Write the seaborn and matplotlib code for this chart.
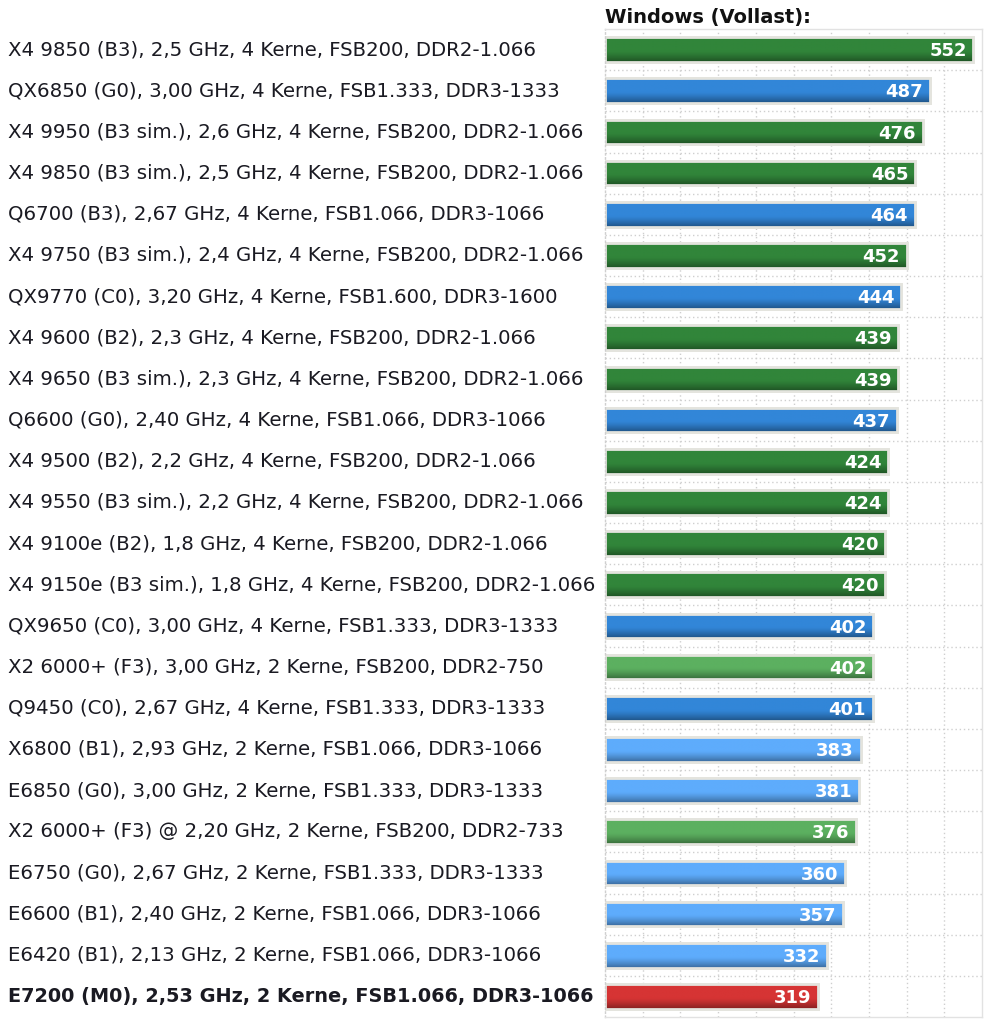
import matplotlib
matplotlib.use("Agg")
import matplotlib.pyplot as plt
import matplotlib.transforms as mtransforms
import matplotlib.colors as mcolors
import seaborn as sns
import pandas as pd
import numpy as np

labels = [
    "X4 9850 (B3), 2,5 GHz, 4 Kerne, FSB200, DDR2-1.066",
    "QX6850 (G0), 3,00 GHz, 4 Kerne, FSB1.333, DDR3-1333",
    "X4 9950 (B3 sim.), 2,6 GHz, 4 Kerne, FSB200, DDR2-1.066",
    "X4 9850 (B3 sim.), 2,5 GHz, 4 Kerne, FSB200, DDR2-1.066",
    "Q6700 (B3), 2,67 GHz, 4 Kerne, FSB1.066, DDR3-1066",
    "X4 9750 (B3 sim.), 2,4 GHz, 4 Kerne, FSB200, DDR2-1.066",
    "QX9770 (C0), 3,20 GHz, 4 Kerne, FSB1.600, DDR3-1600",
    "X4 9600 (B2), 2,3 GHz, 4 Kerne, FSB200, DDR2-1.066",
    "X4 9650 (B3 sim.), 2,3 GHz, 4 Kerne, FSB200, DDR2-1.066",
    "Q6600 (G0), 2,40 GHz, 4 Kerne, FSB1.066, DDR3-1066",
    "X4 9500 (B2), 2,2 GHz, 4 Kerne, FSB200, DDR2-1.066",
    "X4 9550 (B3 sim.), 2,2 GHz, 4 Kerne, FSB200, DDR2-1.066",
    "X4 9100e (B2), 1,8 GHz, 4 Kerne, FSB200, DDR2-1.066",
    "X4 9150e (B3 sim.), 1,8 GHz, 4 Kerne, FSB200, DDR2-1.066",
    "QX9650 (C0), 3,00 GHz, 4 Kerne, FSB1.333, DDR3-1333",
    "X2 6000+ (F3), 3,00 GHz, 2 Kerne, FSB200, DDR2-750",
    "Q9450 (C0), 2,67 GHz, 4 Kerne, FSB1.333, DDR3-1333",
    "X6800 (B1), 2,93 GHz, 2 Kerne, FSB1.066, DDR3-1066",
    "E6850 (G0), 3,00 GHz, 2 Kerne, FSB1.333, DDR3-1333",
    "X2 6000+ (F3) @ 2,20 GHz, 2 Kerne, FSB200, DDR2-733",
    "E6750 (G0), 2,67 GHz, 2 Kerne, FSB1.333, DDR3-1333",
    "E6600 (B1), 2,40 GHz, 2 Kerne, FSB1.066, DDR3-1066",
    "E6420 (B1), 2,13 GHz, 2 Kerne, FSB1.066, DDR3-1066",
    "E7200 (M0), 2,53 GHz, 2 Kerne, FSB1.066, DDR3-1066",
]
values = [552, 487, 476, 465, 464, 452, 444, 439, 439, 437, 424, 424, 420, 420,
          402, 402, 401, 383, 381, 376, 360, 357, 332, 319]
groups = ["amd4", "intel4", "amd4", "amd4", "intel4", "amd4", "intel4", "amd4", "amd4",
          "intel4", "amd4", "amd4", "amd4", "amd4", "intel4", "amd2", "intel4", "intel2",
          "intel2", "amd2", "intel2", "intel2", "intel2", "test"]
title = "Windows (Vollast):"

palette = {"amd4": "#31853a", "intel4": "#3286d8", "amd2": "#5cb060",
           "intel2": "#5eacfc", "test": "#d63434"}

df = pd.DataFrame({"label": labels, "value": values, "group": groups})

sns.set_theme(style="white")
plt.rcParams['font.family'] = ['DejaVu Sans']

fig = plt.figure(figsize=(9.94, 10.24), dpi=100)
ax = fig.add_axes([605/994, 1 - 1017/1024, (982 - 605)/994, (1017 - 29)/1024])

edge = "#e4e4de"
sns.barplot(data=df, x="value", y="label", hue="group", palette=palette,
            dodge=False, legend=False, width=0.6, ax=ax,
            edgecolor=edge, linewidth=2, saturation=1)

xlim = (0, 565)
ylim = (len(labels) - 0.5, -0.5)

# vertical gradient inside each bar (lighter top, darker bottom)
for p in list(ax.patches):
    fc = np.array(mcolors.to_rgb(p.get_facecolor()))
    n = 40
    t = np.linspace(0, 1, n)
    fac = np.where(t < 0.55, 1.0, 1.0 - 0.38 * ((t - 0.55) / 0.45) ** 1.3)
    rows = np.clip(fc[None, :] * fac[:, None], 0, 1)
    rows[:3] = np.clip(fc + (1 - fc) * 0.12, 0, 1)
    img = rows[:, None, :]
    x0, y0 = p.get_x(), p.get_y()
    w, h = p.get_width(), p.get_height()
    im = ax.imshow(img, extent=(x0, x0 + w, y0 + h, y0), aspect="auto",
                   interpolation="bilinear", zorder=p.get_zorder() + 0.1, origin="upper")
    im.set_clip_path(p)
    ax.add_patch(plt.Rectangle((x0, y0), w, h, fill=False, edgecolor=edge,
                               linewidth=2, zorder=p.get_zorder() + 0.2))

ax.set_xlim(*xlim)
ax.set_ylim(*ylim)
ax.set_aspect("auto")
ax.set_xlabel("")
ax.set_ylabel("")
ax.set_xticks(np.linspace(0, 565, 11)[1:-1])
ax.set_yticks(np.arange(len(labels) - 1) + 0.5)
ax.set_xticklabels([])
ax.set_yticklabels([])
ax.tick_params(length=0)
ax.grid(True, color="#cfcfcf", linestyle=(0, (1, 2)), linewidth=1)
ax.set_axisbelow(True)
for side, sp in ax.spines.items():
    sp.set_visible(True)
    sp.set_color("#e2e2e2")
    sp.set_linewidth(1)
ax.spines["left"].set_linestyle((0, (1, 2)))
ax.spines["left"].set_color("#cfcfcf")

# value labels
for i, v in enumerate(values):
    ax.text(v - 10, i + 0.04, str(v), ha="right", va="center", color="white",
            fontsize=13, fontweight="bold", zorder=10)

# category labels
trans = mtransforms.blended_transform_factory(fig.transFigure, ax.transData)
for i, lab in enumerate(labels):
    bold = groups[i] == "test"
    ax.text(8/994, i, lab, transform=trans, ha="left", va="center",
            fontsize=13.85 if bold else 14.2, color="#1a1a22",
            fontweight="bold" if bold else "normal")

fig.text(605/994, 1 - 18/1024, title, ha="left", va="center",
         fontsize=14, fontweight="bold", color="#111111")

fig.savefig("out.png", dpi=100, facecolor="white")
